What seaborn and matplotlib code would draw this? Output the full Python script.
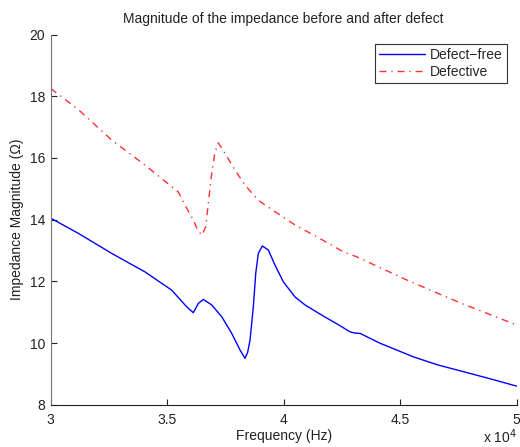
import matplotlib
matplotlib.use("Agg")
import matplotlib.pyplot as plt
import pandas as pd
import seaborn as sns

# Frequency (Hz) and impedance magnitude (Ohm)
freq_free = [30000, 31185, 32618, 34047, 35193, 35764, 35950, 36121, 36336, 36550,
             36910, 37339, 37768, 38125, 38339, 38450, 38554, 38696, 38799, 38910,
             39082, 39340, 39627, 39983, 40485, 40915, 41700, 42300, 42846, 43050,
             43275, 44134, 45563, 46600, 47709, 48900, 50000]
imp_free = [14.05, 13.56, 12.91, 12.31, 11.72, 11.24, 11.10, 10.99, 11.29, 11.42,
            11.24, 10.86, 10.32, 9.78, 9.51, 9.70, 10.10, 11.18, 12.26, 12.91,
            13.15, 13.02, 12.53, 11.99, 11.50, 11.24, 10.88, 10.62, 10.37, 10.33,
            10.32, 10.00, 9.56, 9.30, 9.08, 8.84, 8.61]

freq_def = [30000, 31185, 32618, 34047, 35477, 35764, 36121, 36300, 36481, 36653,
            36764, 36910, 37052, 37194, 37481, 37910, 38339, 38910, 39627, 40485,
            41417, 42560, 43133, 45280, 47600, 50000]
imp_def = [18.25, 17.57, 16.58, 15.77, 14.90, 14.47, 13.99, 13.68, 13.50, 13.77,
           14.53, 15.50, 16.20, 16.49, 16.15, 15.61, 15.12, 14.63, 14.26, 13.83,
           13.45, 12.96, 12.80, 12.05, 11.30, 10.59]

sns.set_style("white")
plt.rcParams['font.family'] = ['Liberation Sans', 'DejaVu Sans']

df_free = pd.DataFrame({'freq': freq_free, 'imp': imp_free})
df_def = pd.DataFrame({'freq': freq_def, 'imp': imp_def})

fig = plt.figure(figsize=(5.2, 4.47), dpi=100)
ax = fig.add_axes([0.0975, 0.094, 0.8962, 0.8288])

sns.lineplot(data=df_free, x='freq', y='imp', ax=ax, color='#0000ff',
             linewidth=1.0, label='Defect\u2212free', sort=False)
sns.lineplot(data=df_def, x='freq', y='imp', ax=ax, color='#ff3030',
             linewidth=1.0, linestyle=(0, (5, 3.5, 1, 3.5)),
             label='Defective', sort=False)

ax.set_xlim(30000, 50000)
ax.set_ylim(8, 20)
ax.set_xticks([30000, 35000, 40000, 45000, 50000])
ax.set_xticklabels(['3', '3.5', '4', '4.5', '5'])
ax.set_yticks([8, 10, 12, 14, 16, 18, 20])

for side in ['top', 'right']:
    ax.spines[side].set_visible(False)
ax.spines['left'].set_color('#777777')
ax.spines['bottom'].set_color('#222222')
ax.tick_params(bottom=True, left=True, direction='in', length=4, width=0.8,
               labelsize=10, colors='#222222')
ax.tick_params(axis='x', pad=6)
ax.tick_params(axis='y', pad=4)

ax.set_title('Magnitude of the impedance before and after defect',
             fontsize=10, pad=8, color='#222222')
ax.set_xlabel('Frequency (Hz)', fontsize=10, labelpad=1, color='#222222')
ax.set_ylabel('Impedance Magnitude (\u03a9)', fontsize=10, labelpad=4,
              color='#222222')
fig.text(0.994, 0.008, 'x 10$^4$', fontsize=10, ha='right', va='baseline',
         color='#222222')

leg = ax.legend(loc='upper right', bbox_to_anchor=(0.994, 0.994), fontsize=10,
                frameon=True, fancybox=False, handlelength=3.3,
                borderpad=0.3, labelspacing=0.2, handletextpad=0.4)
leg.get_frame().set_edgecolor('black')
leg.get_frame().set_linewidth(0.8)

fig.savefig('out.png', dpi=100)
